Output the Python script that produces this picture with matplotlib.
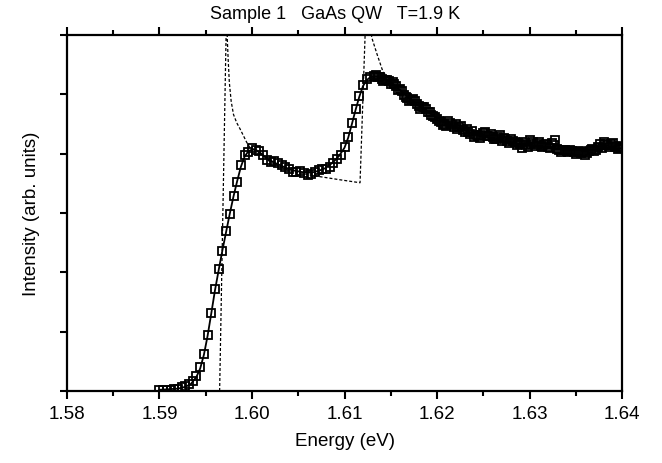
import numpy as np
import matplotlib
matplotlib.use('Agg')
import matplotlib.pyplot as plt
from matplotlib.ticker import MultipleLocator, NullFormatter

plt.rcParams['font.family'] = ['Liberation Sans', 'DejaVu Sans']

# Measured spectrum (energy in eV, intensity in arb. units)
energy = [1.5900, 1.5904, 1.5908, 1.5912, 1.5916, 1.5920, 1.5924, 1.5928, 1.5932, 1.5936,
          1.5940, 1.5944, 1.5948, 1.5952, 1.5956, 1.5960, 1.5964, 1.5968, 1.5972, 1.5976,
          1.5980, 1.5984, 1.5988, 1.5992, 1.5996, 1.6000, 1.6004, 1.6008, 1.6012, 1.6016,
          1.6020, 1.6024, 1.6028, 1.6032, 1.6036, 1.6040, 1.6044, 1.6048, 1.6052, 1.6056,
          1.6060, 1.6064, 1.6068, 1.6072, 1.6076, 1.6080, 1.6084, 1.6088, 1.6092, 1.6096,
          1.6100, 1.6104, 1.6108, 1.6112, 1.6116, 1.6120, 1.6124, 1.6128, 1.6132, 1.6136,
          1.6140, 1.6144, 1.6148, 1.6152, 1.6156, 1.6160, 1.6164, 1.6168, 1.6172, 1.6176,
          1.6180, 1.6184, 1.6188, 1.6192, 1.6196, 1.6200, 1.6204, 1.6208, 1.6212, 1.6216,
          1.6220, 1.6224, 1.6228, 1.6232, 1.6236, 1.6240, 1.6244, 1.6248, 1.6252, 1.6256,
          1.6260, 1.6264, 1.6268, 1.6272, 1.6276, 1.6280, 1.6284, 1.6288, 1.6292, 1.6296,
          1.6300, 1.6304, 1.6308, 1.6312, 1.6316, 1.6320, 1.6324, 1.6328, 1.6332, 1.6336,
          1.6340, 1.6344, 1.6348, 1.6352, 1.6356, 1.6360, 1.6364, 1.6368, 1.6372, 1.6376,
          1.6380, 1.6384, 1.6388, 1.6392, 1.6396, 1.6400]
intensity = [0.02, 0.02, 0.02, 0.02, 0.03, 0.04, 0.06, 0.08, 0.11, 0.17,
             0.25, 0.40, 0.62, 0.94, 1.31, 1.72, 2.06, 2.36, 2.70, 2.98,
             3.29, 3.52, 3.81, 3.98, 4.03, 4.10, 4.06, 4.05, 3.98, 3.89,
             3.86, 3.88, 3.84, 3.81, 3.78, 3.74, 3.69, 3.69, 3.70, 3.68,
             3.64, 3.66, 3.69, 3.72, 3.74, 3.74, 3.77, 3.84, 3.91, 3.98,
             4.11, 4.28, 4.52, 4.75, 4.97, 5.16, 5.26, 5.29, 5.31, 5.29,
             5.26, 5.24, 5.23, 5.21, 5.14, 5.09, 4.99, 4.93, 4.90, 4.88,
             4.81, 4.79, 4.75, 4.70, 4.64, 4.58, 4.53, 4.50, 4.55, 4.48,
             4.50, 4.45, 4.40, 4.42, 4.33, 4.28, 4.30, 4.31, 4.37, 4.30,
             4.28, 4.25, 4.31, 4.26, 4.21, 4.25, 4.20, 4.18, 4.10, 4.15,
             4.23, 4.20, 4.16, 4.13, 4.15, 4.11, 4.18, 4.23, 4.06, 4.06,
             4.05, 4.06, 4.03, 4.03, 4.01, 3.98, 4.05, 4.08, 4.06, 4.16,
             4.20, 4.15, 4.16, 4.11, 4.08, 4.11]

# second overlapping scan above the upper peak
energy2 = [1.6134, 1.6138, 1.6142, 1.6146, 1.6150, 1.6154, 1.6158, 1.6162, 1.6166, 1.6170,
           1.6174, 1.6178, 1.6182, 1.6186, 1.6190, 1.6194, 1.6198, 1.6202, 1.6206, 1.6210,
           1.6214, 1.6218, 1.6222, 1.6226, 1.6230, 1.6234, 1.6238, 1.6242, 1.6246, 1.6250,
           1.6254, 1.6258, 1.6262, 1.6266, 1.6270, 1.6274, 1.6278, 1.6282, 1.6286, 1.6290,
           1.6294, 1.6298, 1.6302, 1.6306, 1.6310, 1.6314, 1.6318, 1.6322, 1.6326, 1.6330,
           1.6334, 1.6338, 1.6342, 1.6346, 1.6350, 1.6354, 1.6358, 1.6362, 1.6366, 1.6370,
           1.6374, 1.6378, 1.6382, 1.6386, 1.6390, 1.6394, 1.6398]
intensity2 = [5.33, 5.30, 5.22, 5.25, 5.18, 5.17, 5.07, 5.05, 4.95, 4.88,
              4.92, 4.84, 4.76, 4.78, 4.71, 4.66, 4.62, 4.55, 4.49, 4.47,
              4.52, 4.45, 4.42, 4.46, 4.37, 4.36, 4.38, 4.31, 4.27, 4.34,
              4.29, 4.33, 4.24, 4.28, 4.22, 4.24, 4.18, 4.22, 4.14, 4.16,
              4.19, 4.12, 4.17, 4.13, 4.19, 4.12, 4.17, 4.10, 4.14, 4.08,
              4.03, 4.07, 4.02, 4.05, 4.00, 4.04, 4.02, 4.01, 4.06, 4.04,
              4.12, 4.09, 4.17, 4.12, 4.18, 4.13, 4.09]

# broadened fit (solid line)
fit_e = [1.5900, 1.5920, 1.5928, 1.5934, 1.5940, 1.5944, 1.5948, 1.5952, 1.5956, 1.5960,
         1.5964, 1.5968, 1.5972, 1.5976, 1.5980, 1.5984, 1.5988, 1.5992, 1.5996, 1.6000,
         1.6004, 1.6010, 1.6016, 1.6024, 1.6034, 1.6044, 1.6054, 1.6064, 1.6072, 1.6080,
         1.6088, 1.6094, 1.6100, 1.6104, 1.6108, 1.6112, 1.6116, 1.6120, 1.6124, 1.6128,
         1.6134, 1.6140, 1.6146, 1.6156, 1.6168, 1.6180, 1.6195, 1.6210, 1.6230, 1.6250,
         1.6270, 1.6290, 1.6310, 1.6330, 1.6350, 1.6370, 1.6400]
fit_i = [0.02, 0.04, 0.07, 0.12, 0.24, 0.38, 0.61, 0.93, 1.31, 1.70,
         2.04, 2.37, 2.68, 2.99, 3.28, 3.54, 3.78, 3.95, 4.04, 4.07,
         4.06, 4.00, 3.92, 3.85, 3.78, 3.72, 3.69, 3.68, 3.71, 3.76,
         3.86, 3.96, 4.10, 4.27, 4.50, 4.74, 4.96, 5.14, 5.24, 5.29,
         5.30, 5.28, 5.24, 5.13, 4.96, 4.81, 4.65, 4.51, 4.39, 4.29,
         4.22, 4.16, 4.12, 4.08, 4.06, 4.06, 4.09]

# unbroadened theory (dashed line)
theory_e = [1.5965, 1.5972, 1.59725, 1.59733, 1.59742, 1.59755, 1.59775, 1.59800, 1.59835, 1.59870,
            1.59943, 1.59978, 1.60065, 1.60195, 1.60411, 1.60663, 1.60951, 1.61168, 1.61222, 1.61235,
            1.61294, 1.61351, 1.61416, 1.6150, 1.6165, 1.6180, 1.6200, 1.6230, 1.6260, 1.6300,
            1.6350, 1.6400]
theory_i = [0.0, 6.0, 7.0, 5.93, 5.60, 5.20, 4.88, 4.66, 4.52, 4.42,
            4.19, 4.10, 4.05, 3.86, 3.71, 3.63, 3.56, 3.51, 5.97, 7.0,
            5.96, 5.68, 5.38, 5.22, 5.00, 4.81, 4.61, 4.39, 4.25, 4.14,
            4.06, 4.09]

fig = plt.figure(figsize=(6.62, 4.64), dpi=100)
ax = fig.add_axes([0.1012, 0.1552, 0.8384, 0.7672])

ax.plot(theory_e, theory_i, color='black', lw=0.9, ls=(0, (2.4, 1.6)))
ax.plot(fit_e, fit_i, color='black', lw=1.3)
ax.plot(energy, intensity, ls='none', marker='s', ms=6, mfc='none', mec='black', mew=1.3)
ax.plot(energy2, intensity2, ls='none', marker='s', ms=6, mfc='none', mec='black', mew=1.3)

ax.set_xlim(1.58, 1.64)
ax.set_ylim(0, 6)

ax.xaxis.set_major_locator(MultipleLocator(0.01))
ax.xaxis.set_minor_locator(MultipleLocator(0.005))
ax.xaxis.set_major_formatter(plt.FormatStrFormatter('%.2f'))
ax.yaxis.set_major_locator(MultipleLocator(1))
ax.yaxis.set_major_formatter(NullFormatter())

ax.tick_params(axis='x', which='both', direction='out', top=True, bottom=True,
               labelsize=13.5, pad=4, width=1.5)
ax.tick_params(axis='x', which='major', length=6)
ax.tick_params(axis='x', which='minor', length=3.5)
ax.tick_params(axis='y', which='major', direction='out', left=True, right=False,
               length=5, width=1.5)

for s in ax.spines.values():
    s.set_linewidth(1.6)

ax.set_xlabel('Energy (eV)', fontsize=13.5, labelpad=7)
ax.set_ylabel('Intensity (arb. units)', fontsize=13.5, labelpad=11)
fig.text(0.506, 0.968, 'Sample 1   GaAs QW   T=1.9 K', ha='center', va='center', fontsize=13)

fig.savefig('out.png', dpi=100)
